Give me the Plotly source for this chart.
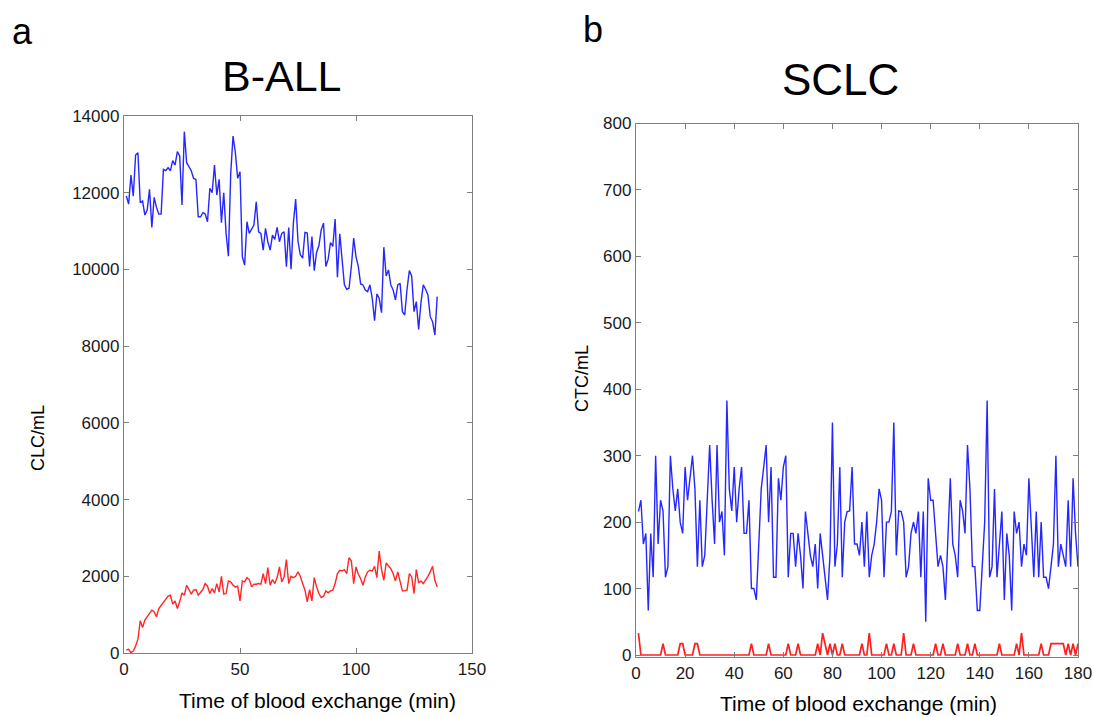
import plotly.graph_objects as go

W, H = 1094, 717

# ---------------- Panel a : B-ALL ----------------
ball_time = list(range(1, 136))
ball_blue = [
    11913, 11704, 12461, 11913, 12983, 13044, 11739, 11782, 11417, 11548,
    12087, 11095, 11878, 11617, 11443, 11443, 12609, 12574, 12652, 12574,
    12835, 12722, 13070, 12957, 11678, 13592, 12783, 12678, 12574, 12374,
    12348, 11374, 11374, 11478, 11443, 11243, 12113, 12000, 12722, 11939,
    12348, 11217, 12000, 10939, 10347, 12504, 13479, 13044, 12374, 12548,
    10330, 10112, 11243, 10939, 11069, 11156, 11765, 10982, 10939, 10504,
    11069, 10722, 10504, 10896, 10782, 11095, 10722, 10939, 10982, 10069,
    11095, 10005, 11207, 11834, 10728, 10380, 10293, 10964, 10946, 10075,
    10859, 9971, 10441, 10615, 11033, 11207, 10075, 10267, 10702, 10598,
    11312, 9796, 10929, 10336, 9596, 9483, 9509, 10075, 10815, 10336,
    10075, 9622, 9596, 9465, 9422, 9596, 9248, 8664, 9361, 9248,
    8873, 10580, 9831, 9988, 9596, 9465, 9204, 9596, 9640, 8899,
    8812, 9483, 9971, 9831, 8899, 9161, 8438, 9135, 9596, 9483,
    9335, 8768, 8638, 8290, 9291,
]
ball_red = [
    78, 95, 9, 52, 182, 355, 840, 667, 857, 944,
    1013, 1117, 1074, 944, 1160, 1247, 1334, 1420, 1481, 1507,
    1273, 1360, 1160, 1334, 1567, 1507, 1767, 1654, 1533, 1637,
    1654, 1507, 1593, 1654, 1810, 1741, 1550, 1680, 1567, 1810,
    1593, 2000, 1533, 1550, 1879, 1853, 1767, 1723, 1741, 1360,
    1879, 1853, 1966, 1914, 1723, 1793, 1793, 1810, 1793, 2070,
    1810, 2226, 1767, 1914, 1810, 1966, 2243, 1853, 1983, 2433,
    1810, 2000, 1966, 2000, 2113, 2000, 1810, 1637, 1334, 1654,
    1360, 1966, 1723, 1550, 1446, 1481, 1620, 1567, 1620, 1637,
    1810, 2070, 2156, 2139, 2174, 2070, 2485, 2399, 1810, 2243,
    2052, 1940, 1767, 1983, 2113, 2156, 2139, 2260, 1966, 2659,
    2174, 1897, 2347, 2260, 2200, 2070, 1879, 2113, 1853, 1620,
    1620, 1637, 2070, 1983, 1550, 2174, 1827, 1879, 1810, 1897,
    2000, 2113, 2260, 1897, 1723,
]
ball_xticks = [0, 50, 100, 150]
ball_yticks = [0, 2000, 4000, 6000, 8000, 10000, 12000, 14000]

# ---------------- Panel b : SCLC ----------------
sclc_time = list(range(1, 181))
sclc_blue = [
    216, 233, 167, 183, 67, 183, 117, 300, 167, 233,
    217, 117, 133, 300, 250, 217, 250, 200, 183, 283,
    233, 266, 300, 250, 133, 233, 133, 150, 233, 316,
    233, 167, 316, 200, 216, 150, 383, 250, 217, 283,
    200, 250, 283, 183, 183, 233, 100, 100, 83, 167,
    250, 283, 316, 200, 283, 117, 117, 266, 233, 283,
    300, 117, 183, 183, 133, 183, 150, 100, 216, 183,
    150, 133, 167, 100, 183, 150, 117, 83, 150, 350,
    133, 167, 283, 117, 200, 216, 217, 283, 167, 167,
    150, 200, 133, 216, 117, 150, 167, 200, 250, 233,
    117, 200, 200, 216, 350, 150, 217, 216, 200, 117,
    133, 183, 200, 183, 216, 117, 216, 50, 266, 233,
    233, 183, 133, 150, 133, 83, 167, 266, 167, 150,
    117, 233, 217, 183, 316, 250, 133, 133, 67, 67,
    133, 200, 383, 117, 133, 250, 117, 167, 216, 83,
    183, 150, 67, 216, 183, 200, 133, 167, 150, 266,
    200, 117, 216, 117, 200, 117, 117, 100, 133, 167,
    300, 133, 167, 150, 133, 233, 133, 266, 183, 133,
]
sclc_red = [
    33, 0, 0, 0, 0, 0, 0, 0, 0, 0,
    17, 0, 0, 0, 0, 0, 0, 17, 17, 0,
    0, 0, 0, 17, 17, 0, 0, 0, 0, 0,
    0, 0, 0, 0, 0, 0, 0, 0, 0, 0,
    0, 0, 0, 0, 0, 0, 17, 0, 0, 0,
    0, 0, 0, 17, 0, 0, 0, 0, 0, 0,
    0, 17, 0, 0, 0, 17, 0, 0, 0, 0,
    0, 0, 0, 17, 0, 33, 17, 0, 17, 0,
    17, 0, 0, 17, 0, 0, 0, 0, 0, 0,
    0, 17, 0, 0, 33, 0, 0, 0, 0, 0,
    0, 17, 0, 0, 17, 0, 0, 0, 33, 0,
    0, 0, 17, 0, 0, 0, 0, 0, 0, 0,
    0, 17, 0, 0, 17, 0, 0, 0, 0, 0,
    17, 0, 0, 0, 17, 0, 0, 17, 0, 0,
    0, 0, 0, 0, 0, 0, 0, 17, 0, 0,
    0, 0, 0, 0, 17, 0, 33, 0, 0, 0,
    0, 0, 0, 0, 17, 0, 0, 0, 17, 17,
    17, 17, 17, 17, 0, 17, 0, 17, 0, 17,
]
sclc_xticks = list(range(0, 181, 20))
sclc_yticks = list(range(0, 801, 100))

# ---------------- styling ----------------
FONT = "Liberation Sans, Arial, sans-serif"
AXCOL = "#7f7f7f"
TXT = "#1a1a1a"


def px(x):
    return x / W


def py(y):
    return 1 - y / H


fig = go.Figure()
fig.add_trace(go.Scatter(x=ball_time, y=ball_blue, mode="lines",
                         line=dict(color="#2626ff", width=1.4),
                         xaxis="x", yaxis="y", showlegend=False))
fig.add_trace(go.Scatter(x=ball_time, y=ball_red, mode="lines",
                         line=dict(color="#ff2626", width=1.4),
                         xaxis="x", yaxis="y", showlegend=False))
fig.add_trace(go.Scatter(x=sclc_time, y=sclc_blue, mode="lines",
                         line=dict(color="#2626ff", width=1.4),
                         xaxis="x2", yaxis="y2", showlegend=False))
fig.add_trace(go.Scatter(x=sclc_time, y=sclc_red, mode="lines",
                         line=dict(color="#ff1f1f", width=1.7),
                         xaxis="x2", yaxis="y2", showlegend=False))

common = dict(showline=True, linecolor=AXCOL, linewidth=1.3, mirror="ticks",
              ticks="inside", ticklen=5, tickwidth=1, tickcolor=AXCOL,
              showgrid=False, zeroline=False, automargin=False, tickformat="d",
              tickfont=dict(family=FONT, size=17, color=TXT))

fig.update_layout(
    width=W, height=H,
    margin=dict(l=0, r=0, t=0, b=0),
    paper_bgcolor="white", plot_bgcolor="white",
    xaxis=dict(domain=[px(124), px(472)], range=[0, 150],
               tickvals=ball_xticks, anchor="y", **common),
    yaxis=dict(domain=[py(653), py(116)], range=[0, 14000],
               tickvals=ball_yticks, anchor="x", **common),
    xaxis2=dict(domain=[px(636), px(1078)], range=[0, 180],
                tickvals=sclc_xticks, anchor="y2", **common),
    yaxis2=dict(domain=[py(657), py(123.5)], range=[-3, 800],
                tickvals=sclc_yticks, anchor="x2", **common),
)

ann = [
    dict(text="a", x=px(22), y=py(31), size=36),
    dict(text="b", x=px(593), y=py(29), size=36),
    dict(text="B-ALL", x=px(282), y=py(76), size=43),
    dict(text="SCLC", x=px(840), y=py(80), size=44),
    dict(text="Time of blood exchange (min)", x=px(317), y=py(700), size=21),
    dict(text="Time of blood exchange (min)", x=px(858), y=py(703), size=21),
]
for a in ann:
    fig.add_annotation(text=a["text"], x=a["x"], y=a["y"], xref="paper", yref="paper",
                       xanchor="center", yanchor="middle", showarrow=False,
                       font=dict(family=FONT, size=a["size"], color="black"))
for t, x, y in [("CLC/mL", 38, 438), ("CTC/mL", 582, 378)]:
    fig.add_annotation(text=t, x=px(x), y=py(y), xref="paper", yref="paper",
                       xanchor="center", yanchor="middle", showarrow=False, textangle=-90,
                       font=dict(family=FONT, size=18, color="black"))

fig.write_html("out.html", config={"displayModeBar": False},
               post_script="document.body.style.margin='0';document.body.style.overflow='hidden';")
